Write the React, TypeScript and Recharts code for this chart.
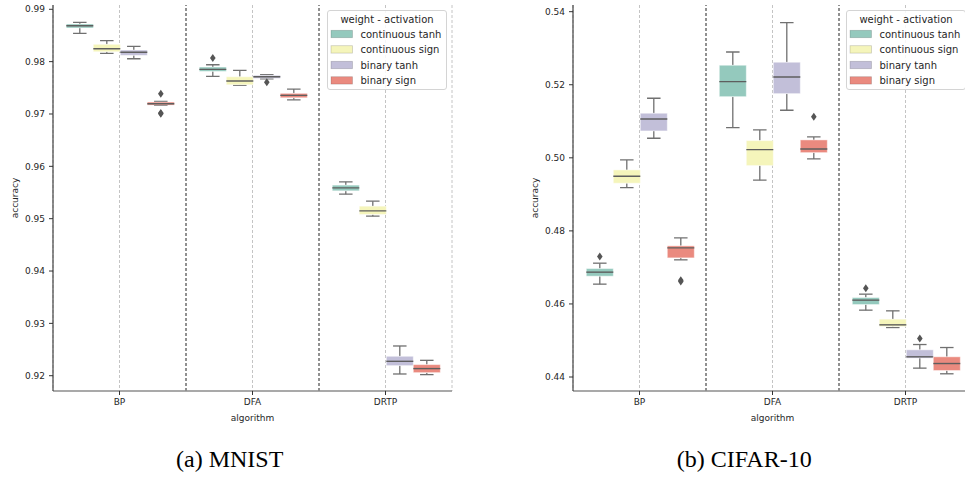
import React from 'react';
import { ComposedChart, Bar, XAxis, YAxis, CartesianGrid, ReferenceLine } from 'recharts';

const algorithms = ['BP', 'DFA', 'DRTP'];
const seriesNames = ['continuous tanh', 'continuous sign', 'binary tanh', 'binary sign'];
const seriesColors = ['#94c9bd', '#f5f5bb', '#c2bfd9', '#ea8a7f'];

// each entry: [whisker low, q1, median, q3, whisker high] for BP, DFA, DRTP
const mnistContinuousTanh = [
  [0.98541, 0.98643, 0.98686, 0.98719, 0.98751],
  [0.97719, 0.97814, 0.97853, 0.97897, 0.97941],
  [0.95469, 0.95532, 0.95589, 0.95641, 0.95704],
];
const mnistContinuousSign = [
  [0.98159, 0.98189, 0.98247, 0.98331, 0.984],
  [0.97547, 0.97558, 0.97629, 0.97711, 0.97834],
  [0.95048, 0.9508, 0.95149, 0.95239, 0.95335],
];
const mnistBinaryTanh = [
  [0.98055, 0.9812, 0.98178, 0.98222, 0.98292],
  [0.97673, 0.97681, 0.97711, 0.97738, 0.9775],
  [0.92033, 0.92193, 0.92275, 0.92371, 0.92568],
];
const mnistBinarySign = [
  [0.97164, 0.9717, 0.97195, 0.97228, 0.97241],
  [0.97271, 0.9731, 0.97356, 0.97394, 0.97476],
  [0.92021, 0.92059, 0.92136, 0.92212, 0.92294],
];
const mnistContinuousTanhOutliers = [[], [0.98069], []];
const mnistContinuousSignOutliers = [[], [], []];
const mnistBinaryTanhOutliers = [[], [0.97604], []];
const mnistBinarySignOutliers = [[0.97386, 0.9702, 0.97004], [], []];

const cifarContinuousTanh = [
  [0.46542, 0.4676, 0.4687, 0.46969, 0.47116],
  [0.50826, 0.51674, 0.52085, 0.52534, 0.52897],
  [0.4583, 0.45984, 0.46104, 0.46175, 0.46268],
];
const cifarContinuousSign = [
  [0.49185, 0.49305, 0.49497, 0.49669, 0.49942],
  [0.49387, 0.49787, 0.50224, 0.50471, 0.50763],
  [0.45354, 0.45382, 0.45428, 0.45584, 0.45811],
];
const cifarBinaryTanh = [
  [0.50536, 0.50736, 0.51064, 0.5122, 0.51631],
  [0.51302, 0.51757, 0.52213, 0.52616, 0.53699],
  [0.44243, 0.44517, 0.44553, 0.44744, 0.44889],
];
const cifarBinarySign = [
  [0.47207, 0.47261, 0.47535, 0.4759, 0.47808],
  [0.4997, 0.50142, 0.50243, 0.5049, 0.50572],
  [0.44088, 0.44178, 0.44369, 0.44553, 0.44807],
];
const cifarContinuousTanhOutliers = [[0.47297], [], [0.46432]];
const cifarContinuousSignOutliers = [[], [], []];
const cifarBinaryTanhOutliers = [[], [], [0.45054]];
const cifarBinarySignOutliers = [[0.4665, 0.46615], [0.51127], []];

const mnistTicks = [0.92, 0.93, 0.94, 0.95, 0.96, 0.97, 0.98, 0.99];
const cifarTicks = [0.44, 0.46, 0.48, 0.5, 0.52, 0.54];
const mnistDomain = [0.91708, 0.99082];
const cifarDomain = [0.43617, 0.54183];

const FONT = '"DejaVu Sans", sans-serif';
const TEXT = '#262626';

function buildRows(stats: number[][][], outliers: number[][][]) {
  return algorithms.map((a, ai) => {
    const row: any = { algorithm: a };
    stats.forEach((s, si) => {
      row['s' + si] = [s[ai][0], s[ai][4]];
      row['st' + si] = s[ai];
      row['out' + si] = outliers[si][ai];
    });
    return row;
  });
}

function makeShape(si: number, color: string) {
  return (props: any) => {
    const { x, y, width, height, payload } = props;
    const s: number[] = payload['st' + si];
    const outs: number[] = payload['out' + si] || [];
    const top = Math.min(y, y + height);
    const bottom = Math.max(y, y + height);
    const lo = s[0];
    const hi = s[4];
    const py = (v: number) => bottom - ((v - lo) / (hi - lo)) * (bottom - top);
    const cx = x + width / 2;
    const capHalf = width / 4;
    const wc = '#707070';
    return (
      <g>
        <line x1={cx} x2={cx} y1={py(hi)} y2={py(s[3])} stroke={wc} strokeWidth={1.3} />
        <line x1={cx} x2={cx} y1={py(s[1])} y2={py(lo)} stroke={wc} strokeWidth={1.3} />
        <line x1={cx - capHalf} x2={cx + capHalf} y1={py(hi)} y2={py(hi)} stroke={wc} strokeWidth={1.3} />
        <line x1={cx - capHalf} x2={cx + capHalf} y1={py(lo)} y2={py(lo)} stroke={wc} strokeWidth={1.3} />
        <rect x={x} y={py(s[3])} width={width} height={Math.max(py(s[1]) - py(s[3]), 0.5)} fill={color} stroke="rgba(255,255,255,0.45)" strokeWidth={1} />
        <line x1={x} x2={x + width} y1={py(s[2])} y2={py(s[2])} stroke="#5e5e5e" strokeWidth={1.4} />
        {outs.map((v, k) => {
          const oy = py(v);
          return (
            <polygon key={k} points={`${cx},${oy - 4} ${cx + 2.8},${oy} ${cx},${oy + 4} ${cx - 2.8},${oy}`} fill="#555" />
          );
        })}
      </g>
    );
  };
}

function BoxChart({ stats, outliers, ticks, domain, left }: any) {
  const rows = buildRows(stats, outliers);
  return (
    <div style={{ position: 'absolute', left, top: 0 }}>
      <ComposedChart width={460} height={430} data={rows} margin={{ top: 5, right: 8, left: 0, bottom: 9 }} barCategoryGap="10%" barGap={0}>
        <CartesianGrid horizontal={false} vertical stroke="#c4c4c4" strokeDasharray="3 2" />
        <XAxis
          xAxisId="top"
          orientation="top"
          dataKey="algorithm"
          height={0}
          tick={false}
          tickLine={false}
          axisLine={{ stroke: '#333', strokeWidth: 1.2 }}
        />
        <YAxis
          yAxisId="right"
          orientation="right"
          type="number"
          domain={domain}
          allowDataOverflow
          width={0}
          tick={false}
          tickLine={false}
          axisLine={{ stroke: '#333', strokeWidth: 1.2 }}
        />
        <XAxis
          dataKey="algorithm"
          interval={0}
          height={30}
          tickSize={4}
          tickMargin={4}
          tick={{ fontSize: 9, fill: TEXT, fontFamily: FONT }}
          tickLine={{ stroke: '#333' }}
          axisLine={{ stroke: '#8c8c8c', strokeWidth: 1.5 }}
          label={{
            content: (p: any) => {
              const vb = p.viewBox || {};
              return (
                <text x={vb.x + vb.width / 2} y={vb.y + 30} textAnchor="middle" fontSize={9} fill={TEXT} fontFamily={FONT}>
                  algorithm
                </text>
              );
            },
          }}
        />
        <YAxis
          type="number"
          domain={domain}
          ticks={ticks}
          allowDataOverflow
          width={53}
          tickSize={4}
          tickMargin={4}
          tickFormatter={(v: number) => v.toFixed(2)}
          tick={{ fontSize: 9, fill: TEXT, fontFamily: FONT }}
          tickLine={{ stroke: '#333' }}
          axisLine={{ stroke: '#444', strokeWidth: 1.2 }}
          label={{
            content: (p: any) => {
              const vb = p.viewBox || {};
              const cy = vb.y + vb.height / 2;
              return (
                <text x={15} y={cy} transform={`rotate(-90, 15, ${cy})`} textAnchor="middle" dy="0.35em" fontSize={9} fill={TEXT} fontFamily={FONT}>
                  accuracy
                </text>
              );
            },
          }}
        />
        <ReferenceLine x="DFA" position="start" stroke="#222" strokeDasharray="3 2" strokeWidth={1} />
        <ReferenceLine x="DRTP" position="start" stroke="#222" strokeDasharray="3 2" strokeWidth={1} />
        {seriesNames.map((n, si) => (
          <Bar key={n} name={n} dataKey={'s' + si} fill={seriesColors[si]} isAnimationActive={false} shape={makeShape(si, seriesColors[si])} />
        ))}
      </ComposedChart>
    </div>
  );
}

function LegendBox({ left, top }: any) {
  const rowsY = [24, 39.4, 55, 70.4];
  return (
    <svg style={{ position: 'absolute', left, top }} width={121} height={81}>
      <rect x={0.5} y={0.5} width={119} height={79} rx={2.5} fill="white" fillOpacity={0.85} stroke="#d4d4d4" />
      <text x={60} y={12.5} textAnchor="middle" fontSize={10} fill={TEXT} fontFamily={FONT}>
        weight - activation
      </text>
      {seriesNames.map((n, i) => (
        <g key={n}>
          <rect x={4} y={rowsY[i] - 3.7} width={21.5} height={7.4} fill={seriesColors[i]} stroke="rgba(0,0,0,0.18)" strokeWidth={0.8} />
          <text x={33.5} y={rowsY[i] + 3.6} fontSize={10} fill={TEXT} fontFamily={FONT}>
            {n}
          </text>
        </g>
      ))}
    </svg>
  );
}

export default function App() {
  return (
    <div style={{ position: 'fixed', left: 0, top: 0, width: 965, height: 477, overflow: 'hidden', background: '#fff' }}>
      <BoxChart
        left={0}
        stats={[mnistContinuousTanh, mnistContinuousSign, mnistBinaryTanh, mnistBinarySign]}
        outliers={[mnistContinuousTanhOutliers, mnistContinuousSignOutliers, mnistBinaryTanhOutliers, mnistBinarySignOutliers]}
        ticks={mnistTicks}
        domain={mnistDomain}
      />
      <BoxChart
        left={520}
        stats={[cifarContinuousTanh, cifarContinuousSign, cifarBinaryTanh, cifarBinarySign]}
        outliers={[cifarContinuousTanhOutliers, cifarContinuousSignOutliers, cifarBinaryTanhOutliers, cifarBinarySignOutliers]}
        ticks={cifarTicks}
        domain={cifarDomain}
      />
      <LegendBox left={327} top={10} />
      <LegendBox left={846} top={10} />
      <svg style={{ position: 'absolute', left: 0, top: 0, pointerEvents: 'none' }} width={965} height={477}>
        <text x={229.7} y={466.5} textAnchor="middle" fontSize={24} fill="#000" fontFamily={'"Liberation Serif", "Times New Roman", serif'}>
          (a) MNIST
        </text>
        <text x={744.2} y={466.5} textAnchor="middle" fontSize={24} fill="#000" fontFamily={'"Liberation Serif", "Times New Roman", serif'}>
          (b) CIFAR-10
        </text>
      </svg>
    </div>
  );
}
